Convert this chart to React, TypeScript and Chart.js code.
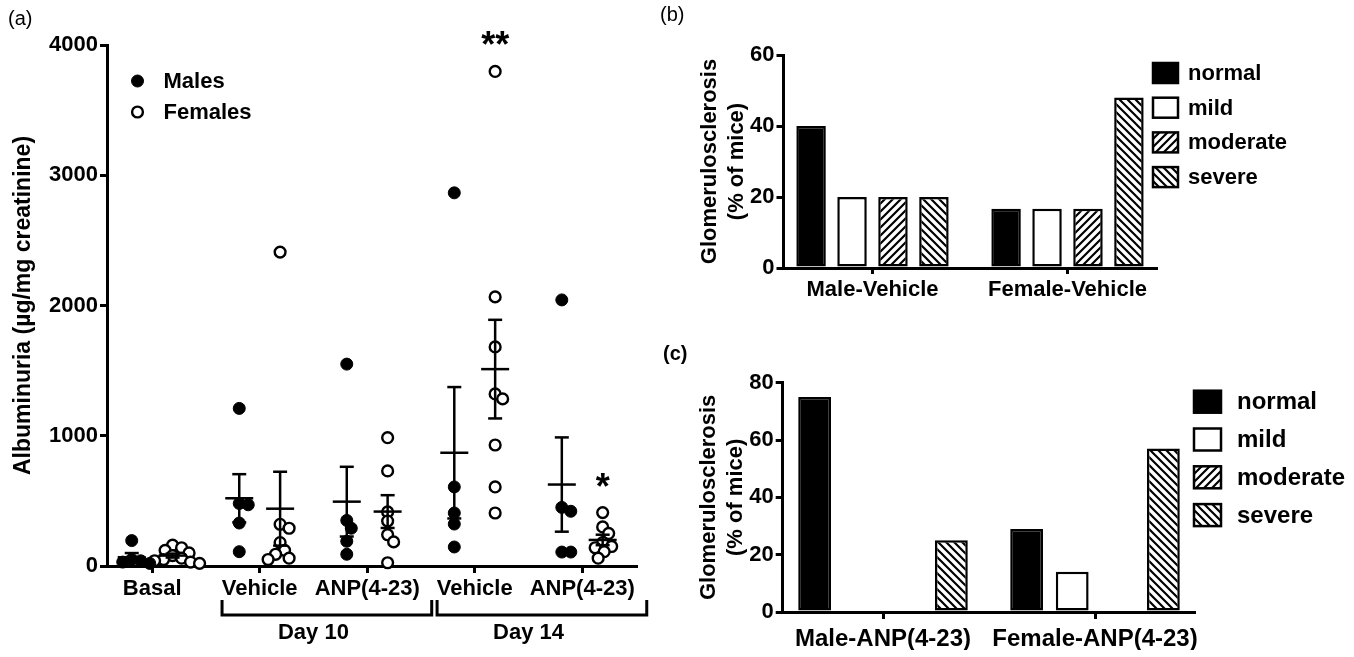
import React, { useEffect, useRef } from "react";
import { Chart, registerables } from "chart.js";

Chart.register(...registerables);

const FONT = "'Liberation Sans', Arial, Helvetica, sans-serif";

// ---------------- Panel (a): albuminuria ----------------
const groupLabels = ["Basal", "Vehicle", "ANP(4-23)", "Vehicle", "ANP(4-23)"];
const dayLabels = ["Day 10", "Day 14"];
const dayGroups = [[2, 3], [4, 5]];
const albuminTicks = [0, 1000, 2000, 3000, 4000];
const sexLabels = ["Males", "Females"];

const malesBasal = [195, 50, 40, 30, 20];
const malesVehD10 = [1210, 480, 470, 330, 110];
const malesAnpD10 = [1550, 350, 290, 190, 90];
const malesVehD14 = [2865, 607, 407, 322, 146];
const malesAnpD14 = [2043, 450, 420, 107, 107];

const femalesBasal = [160, 140, 120, 100, 80, 60, 50, 40, 30, 20];
const femalesVehD10 = [2410, 320, 290, 180, 120, 90, 60, 50];
const femalesAnpD10 = [985, 730, 415, 345, 240, 185, 25];
const femalesVehD14 = [3797, 2066, 1682, 1321, 1283, 929, 607, 407];
const femalesAnpD14 = [410, 300, 250, 180, 150, 140, 110, 60];

const maleGroups = [malesBasal, malesVehD10, malesAnpD10, malesVehD14, malesAnpD14];
const femaleGroups = [femalesBasal, femalesVehD10, femalesAnpD10, femalesVehD14, femalesAnpD14];

// significance marks: [group index (0-based), text] on the female columns
const femaleSignificance: [number, string][] = [[3, "**"], [4, "*"]];

// ---------------- Panels (b), (c): glomerulosclerosis ----------------
const severityLabels = ["normal", "mild", "moderate", "severe"];
const glomTitle = ["Glomerulosclerosis", "(% of mice)"];

const vehicleCategories = ["Male-Vehicle", "Female-Vehicle"];
const vehNormal = [40, 16.7];
const vehMild = [20, 16.7];
const vehModerate = [20, 16.7];
const vehSevere = [20, 48];
const vehTicks = [0, 20, 40, 60];

const anpCategories = ["Male-ANP(4-23)", "Female-ANP(4-23)"];
const anpNormal = [75, 29];
const anpMild = [0, 14];
const anpModerate = [0, 0];
const anpSevere = [25, 57];
const anpTicks = [0, 20, 40, 60, 80];

// ---------------- helpers ----------------
const SEX_OFFSET = 0.19;

function stats(values: number[]) {
  const n = values.length;
  const mean = values.reduce((a, b) => a + b, 0) / n;
  const sd = Math.sqrt(values.reduce((a, b) => a + (b - mean) ** 2, 0) / (n - 1));
  return { mean, sem: sd / Math.sqrt(n) };
}

const swarmPlugin = {
  id: "swarm",
  afterDatasetsUpdate(chart: any, _args: any, opts: any) {
    const minDist = opts.minDist;
    chart.data.datasets.forEach((ds: any, di: number) => {
      const meta = chart.getDatasetMeta(di);
      const groups = new Map<number, any[]>();
      ds.data.forEach((d: any, i: number) => {
        const el = meta.data[i];
        if (!el) return;
        if (!groups.has(d.g)) groups.set(d.g, []);
        groups.get(d.g)!.push(el);
      });
      groups.forEach((els) => {
        const placed: { x: number; y: number }[] = [];
        const sorted = [...els].sort((a, b) => a.y - b.y);
        for (const el of sorted) {
          const cx = el.x;
          let nx = cx;
          for (let k = 0; k < 80; k++) {
            const off = k === 0 ? 0 : (k % 2 ? 1 : -1) * Math.ceil(k / 2) * 1.5;
            const x = cx + off;
            if (placed.every((p) => Math.hypot(p.x - x, p.y - el.y) >= minDist)) {
              nx = x;
              break;
            }
          }
          el.x = nx;
          placed.push({ x: nx, y: el.y });
        }
      });
    });
  },
};

const meanSemPlugin = {
  id: "meanSem",
  afterDatasetsDraw(chart: any, _args: any, opts: any) {
    const { ctx } = chart;
    const xs = chart.scales.x;
    const ys = chart.scales.y;
    ctx.save();
    ctx.strokeStyle = "#000";
    ctx.lineWidth = opts.lineWidth;
    const line = (x1: number, y1: number, x2: number, y2: number) => {
      ctx.beginPath();
      ctx.moveTo(x1, y1);
      ctx.lineTo(x2, y2);
      ctx.stroke();
    };
    opts.columns.forEach((col: { values: number[]; pos: number }) => {
      const { mean, sem } = stats(col.values);
      const px = xs.getPixelForValue(col.pos);
      const pm = ys.getPixelForValue(mean);
      const pu = ys.getPixelForValue(mean + sem);
      const pl = ys.getPixelForValue(Math.max(mean - sem, 0));
      line(px - opts.meanHalf, pm, px + opts.meanHalf, pm);
      line(px, pl, px, pu);
      line(px - opts.capHalf, pu, px + opts.capHalf, pu);
      line(px - opts.capHalf, pl, px + opts.capHalf, pl);
    });
    ctx.restore();
  },
};

const asteriskPlugin = {
  id: "asterisks",
  afterDraw(chart: any, _args: any, opts: any) {
    const { ctx } = chart;
    const xs = chart.scales.x;
    const ys = chart.scales.y;
    ctx.save();
    ctx.fillStyle = "#000";
    ctx.font = `bold ${opts.size}px ${FONT}`;
    ctx.textAlign = "center";
    ctx.textBaseline = "alphabetic";
    opts.marks.forEach((m: { values: number[]; pos: number; text: string }) => {
      const top = ys.getPixelForValue(Math.max(...m.values));
      ctx.fillText(m.text, xs.getPixelForValue(m.pos), top - opts.gap);
    });
    ctx.restore();
  },
};

const bracketPlugin = {
  id: "brackets",
  afterDraw(chart: any, _args: any, opts: any) {
    const { ctx, chartArea } = chart;
    const xs = chart.scales.x;
    const yTop = chartArea.bottom + opts.top;
    const yBar = chartArea.bottom + opts.bar;
    ctx.save();
    ctx.strokeStyle = "#000";
    ctx.lineWidth = 3;
    ctx.fillStyle = "#000";
    ctx.font = `bold ${opts.size}px ${FONT}`;
    ctx.textAlign = "center";
    ctx.textBaseline = "middle";
    opts.groups.forEach((g: number[], i: number) => {
      const x1 = xs.getPixelForValue(g[0] - opts.left);
      const x2 = xs.getPixelForValue(g[g.length - 1] + opts.right);
      ctx.beginPath();
      ctx.moveTo(x1, yTop);
      ctx.lineTo(x1, yBar);
      ctx.lineTo(x2, yBar);
      ctx.lineTo(x2, yTop);
      ctx.stroke();
      const mid = xs.getPixelForValue((g[0] + g[g.length - 1]) / 2);
      ctx.fillText(opts.labels[i], mid, chartArea.bottom + opts.text);
    });
    ctx.restore();
  },
};

const pointLegendPlugin = {
  id: "pointLegend",
  afterDraw(chart: any, _args: any, opts: any) {
    const { ctx, chartArea } = chart;
    ctx.save();
    ctx.font = `bold ${opts.size}px ${FONT}`;
    ctx.textBaseline = "middle";
    ctx.textAlign = "left";
    chart.data.datasets.forEach((ds: any, i: number) => {
      const x = chartArea.left + opts.dx;
      const y = chartArea.top + opts.dy + i * opts.spacing;
      ctx.beginPath();
      ctx.arc(x, y, ds.pointRadius, 0, Math.PI * 2);
      ctx.fillStyle = ds.pointBackgroundColor;
      ctx.fill();
      ctx.lineWidth = ds.pointBorderWidth;
      ctx.strokeStyle = ds.pointBorderColor;
      ctx.stroke();
      ctx.fillStyle = "#000";
      ctx.fillText(ds.label, x + opts.textDx, y + 1);
    });
    ctx.restore();
  },
};

const boxLegendPlugin = {
  id: "boxLegend",
  afterDraw(chart: any, _args: any, opts: any) {
    const { ctx, chartArea } = chart;
    ctx.save();
    ctx.font = `bold ${opts.size}px ${FONT}`;
    ctx.textBaseline = "middle";
    ctx.textAlign = "left";
    chart.data.datasets.forEach((ds: any, i: number) => {
      const x = chartArea.right + opts.dx;
      const yc = chartArea.top + opts.dy + i * opts.spacing;
      ctx.fillStyle = ds.backgroundColor;
      ctx.fillRect(x, yc - opts.boxH / 2, opts.boxW, opts.boxH);
      ctx.lineWidth = 2.5;
      ctx.strokeStyle = "#000";
      ctx.strokeRect(x, yc - opts.boxH / 2, opts.boxW, opts.boxH);
      ctx.fillStyle = "#000";
      ctx.fillText(ds.label, x + opts.textDx, yc + 1);
    });
    ctx.restore();
  },
};

// Places the first/last category centres at given pixel insets from the axis ends.
const categoryInsetPlugin = {
  id: "categoryInset",
  afterLayout(chart: any, _args: any, opts: any) {
    if (!opts || opts.left == null) return;
    const xs = chart.scales.x;
    const n = chart.data.labels.length;
    const w = xs.width;
    const range = ((n - 1) * w) / (w - opts.left - opts.right);
    xs._startValue = (-opts.left * range) / w;
    xs._valueRange = range;
  },
};

function makePattern(target: CanvasRenderingContext2D, forward: boolean) {
  const s = 8;
  const c = document.createElement("canvas");
  c.width = s;
  c.height = s;
  const g = c.getContext("2d")!;
  g.fillStyle = "#fff";
  g.fillRect(0, 0, s, s);
  g.strokeStyle = "#000";
  g.lineWidth = 2.2;
  g.beginPath();
  if (forward) {
    g.moveTo(-2, s + 2);
    g.lineTo(s + 2, -2);
    g.moveTo(-2, 2);
    g.lineTo(2, -2);
    g.moveTo(s - 2, s + 2);
    g.lineTo(s + 2, s - 2);
  } else {
    g.moveTo(-2, -2);
    g.lineTo(s + 2, s + 2);
    g.moveTo(s - 2, -2);
    g.lineTo(s + 2, 2);
    g.moveTo(-2, s - 2);
    g.lineTo(2, s + 2);
  }
  g.stroke();
  return target.createPattern(c, "repeat")!;
}

const axisGrid = (tickLength: number) => ({
  display: true,
  drawOnChartArea: false,
  drawTicks: true,
  tickLength,
  lineWidth: 3,
  color: "#000",
  offset: false,
});
const axisBorder = { display: true, width: 3, color: "#000" };
const plainNumber = (v: any) => String(v);

function configA(): any {
  const malePts = maleGroups.flatMap((vals, g) => vals.map((v) => ({ x: g + 1 - SEX_OFFSET, y: v, g })));
  const femalePts = femaleGroups.flatMap((vals, g) => vals.map((v) => ({ x: g + 1 + SEX_OFFSET, y: v, g })));
  const columns = [
    ...maleGroups.map((values, g) => ({ values, pos: g + 1 - SEX_OFFSET })),
    ...femaleGroups.map((values, g) => ({ values, pos: g + 1 + SEX_OFFSET })),
  ];
  const marks = femaleSignificance.map(([g, text]) => ({ values: femaleGroups[g], pos: g + 1 + SEX_OFFSET, text }));
  return {
    type: "scatter",
    data: {
      datasets: [
        { label: sexLabels[0], data: malePts, pointRadius: 6, pointBackgroundColor: "#000", pointBorderColor: "#000", pointBorderWidth: 1, clip: false },
        { label: sexLabels[1], data: femalePts, pointRadius: 5.4, pointBackgroundColor: "#fff", pointBorderColor: "#000", pointBorderWidth: 2.4, clip: false },
      ],
    },
    options: {
      responsive: false,
      animation: false,
      events: [],
      layout: { padding: { left: 0, top: 45, right: 24, bottom: 51 } },
      plugins: {
        legend: { display: false },
        tooltip: { enabled: false },
        swarm: { minDist: 8.5 },
        meanSem: { columns, lineWidth: 2.5, meanHalf: 14, capHalf: 7 },
        asterisks: { marks, size: 36, gap: 14 },
        brackets: { groups: dayGroups, labels: dayLabels, left: 0.35, right: 0.6, top: 34, bar: 49, text: 67, size: 22 },
        pointLegend: { dx: 30.5, dy: 36, spacing: 31, textDx: 26, size: 22 },
      },
      scales: {
        x: {
          type: "linear",
          min: 0.58,
          max: 5.5,
          afterBuildTicks: (s: any) => {
            s.ticks = groupLabels.map((_, i) => ({ value: i + 1 }));
          },
          ticks: {
            callback: (v: any) => groupLabels[Math.round(v) - 1] ?? "",
            font: { size: 22, weight: "bold" },
            padding: 3,
            autoSkip: false,
            maxRotation: 0,
          },
          grid: axisGrid(7),
          border: axisBorder,
          afterFit: (s: any) => {
            s.height = 40;
          },
        },
        y: {
          min: albuminTicks[0],
          max: albuminTicks[albuminTicks.length - 1],
          ticks: { stepSize: albuminTicks[1] - albuminTicks[0], font: { size: 22, weight: "bold" }, padding: 2, callback: plainNumber },
          grid: axisGrid(7),
          border: axisBorder,
          title: {
            display: true,
            text: "Albuminuria (µg/mg creatinine)",
            font: { size: 23, weight: "bold" },
            padding: { top: 10, bottom: 0 },
          },
          afterFit: (s: any) => {
            s.width = 107;
          },
        },
      },
    },
    plugins: [swarmPlugin, meanSemPlugin, asteriskPlugin, bracketPlugin, pointLegendPlugin],
  };
}

function barConfig(canvas: HTMLCanvasElement, categories: string[], series: number[][], ticksArr: number[], p: any): any {
  const ctx = canvas.getContext("2d")!;
  const fills = ["#000", "#fff", makePattern(ctx, true), makePattern(ctx, false)];
  return {
    type: "bar",
    data: {
      labels: categories,
      datasets: severityLabels.map((label, i) => ({
        label,
        data: series[i],
        backgroundColor: fills[i],
        borderColor: "#000",
        borderWidth: 2.5,
        borderSkipped: false,
        barPercentage: p.barPct,
        categoryPercentage: p.catPct,
      })),
    },
    options: {
      responsive: false,
      animation: false,
      events: [],
      layout: { padding: p.padding },
      plugins: {
        legend: { display: false },
        tooltip: { enabled: false },
        boxLegend: p.legend,
        categoryInset: p.inset,
      },
      scales: {
        x: {
          grid: axisGrid(p.xTick),
          border: axisBorder,
          ticks: { font: { size: p.xFont, weight: "bold" }, padding: p.xPad, autoSkip: false, maxRotation: 0 },
          afterFit: (s: any) => {
            s.height = p.xHeight;
          },
        },
        y: {
          min: ticksArr[0],
          max: ticksArr[ticksArr.length - 1],
          ticks: { stepSize: ticksArr[1] - ticksArr[0], font: { size: 22, weight: "bold" }, padding: 2, callback: plainNumber },
          grid: axisGrid(7),
          border: axisBorder,
          title: {
            display: true,
            text: glomTitle,
            font: { size: 22, weight: "bold" },
            padding: { top: p.titlePad, bottom: 0 },
          },
          afterFit: (s: any) => {
            s.width = p.yWidth;
          },
        },
      },
    },
    plugins: [categoryInsetPlugin, boxLegendPlugin],
  };
}

const panelLabel = (left: number, top: number): React.CSSProperties => ({
  position: "absolute",
  left,
  top,
  fontFamily: FONT,
  fontSize: 20,
  lineHeight: "20px",
  color: "#000",
});

export default function App() {
  const aRef = useRef<HTMLCanvasElement>(null);
  const bRef = useRef<HTMLCanvasElement>(null);
  const cRef = useRef<HTMLCanvasElement>(null);

  useEffect(() => {
    Chart.defaults.font.family = FONT;
    Chart.defaults.color = "#000";
    const charts: Chart[] = [];
    charts.push(new Chart(aRef.current!, configA()));
    charts.push(
      new Chart(
        bRef.current!,
        barConfig(bRef.current!, vehicleCategories, [vehNormal, vehMild, vehModerate, vehSevere], vehTicks, {
          barPct: 0.72,
          catPct: 0.84,
          padding: { left: 0, top: 55, right: 198, bottom: 12 },
          inset: { left: 89, right: 88.5 },
          xHeight: 40,
          xTick: 6,
          xPad: 3,
          xFont: 22,
          yWidth: 123.5,
          titlePad: 37,
          legend: { dx: -3, dy: 18, spacing: 34.7, boxW: 25, boxH: 20, textDx: 35, size: 22 },
        })
      )
    );
    charts.push(
      new Chart(
        cRef.current!,
        barConfig(cRef.current!, anpCategories, [anpNormal, anpMild, anpModerate, anpSevere], anpTicks, {
          barPct: 0.72,
          catPct: 0.86,
          padding: { left: 0, top: 62.7, right: 160, bottom: 7 },
          inset: { left: 100.3, right: 99 },
          xHeight: 38,
          xTick: 7,
          xPad: 6,
          xFont: 24,
          yWidth: 122.7,
          titlePad: 36,
          legend: { dx: 0, dy: 19, spacing: 37.8, boxW: 27, boxH: 22, textDx: 43, size: 24 },
        })
      )
    );
    return () => charts.forEach((c) => c.destroy());
  }, []);

  return (
    <div style={{ position: "fixed", left: 0, top: 0, width: 1354, height: 657, background: "#fff", overflow: "hidden" }}>
      <canvas ref={aRef} width={660} height={657} style={{ position: "absolute", left: 0, top: 0, width: 660, height: 657 }} />
      <canvas ref={bRef} width={694} height={320} style={{ position: "absolute", left: 660, top: 0, width: 694, height: 320 }} />
      <canvas ref={cRef} width={694} height={337} style={{ position: "absolute", left: 660, top: 320, width: 694, height: 337 }} />
      <span style={panelLabel(8, 8)}>(a)</span>
      <span style={panelLabel(660, 4)}>(b)</span>
      <span style={{ ...panelLabel(663, 343), fontWeight: "bold" }}>(c)</span>
    </div>
  );
}
